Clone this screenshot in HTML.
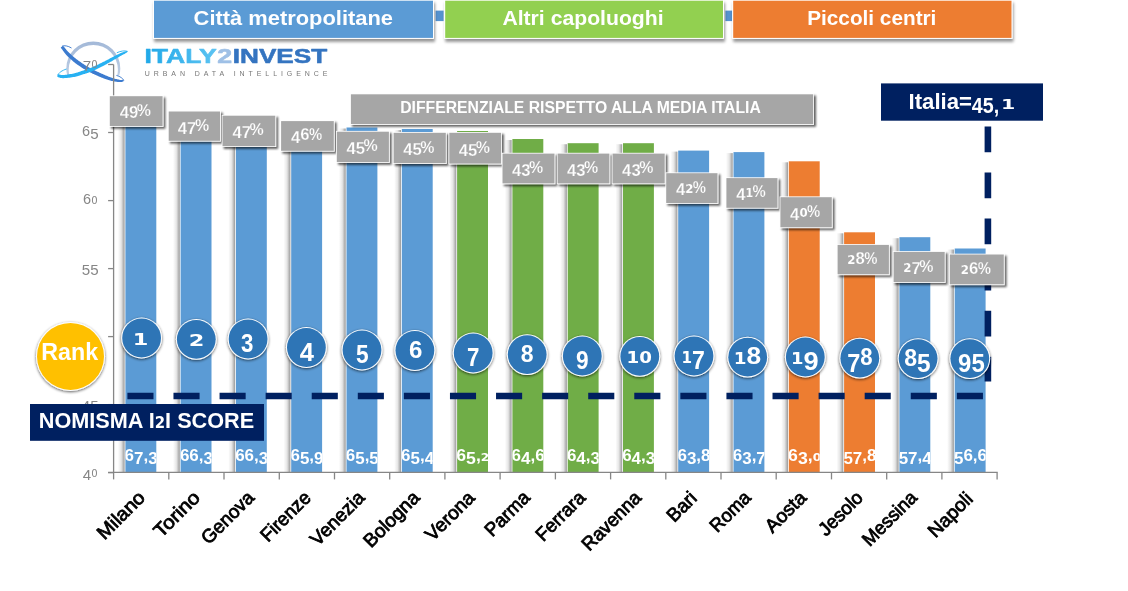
<!DOCTYPE html>
<html lang="it"><head><meta charset="utf-8"><title>Nomisma I2I Score</title>
<style>html,body{margin:0;padding:0;background:#fff}svg{display:block}text{font-family:"Liberation Sans", sans-serif}.o{font-family:"DejaVu Sans","Liberation Sans",sans-serif;stroke-width:0.05px}</style></head><body>
<svg width="1128" height="591" viewBox="0 0 1128 591">
<defs>
<filter id="sh" x="-10%" y="-20%" width="125%" height="150%"><feGaussianBlur in="SourceAlpha" stdDeviation="1.7"/><feOffset dx="1.2" dy="2.8"/><feComponentTransfer><feFuncA type="linear" slope="0.42"/></feComponentTransfer><feMerge><feMergeNode/><feMergeNode in="SourceGraphic"/></feMerge></filter>
<filter id="sh2" x="-20%" y="-20%" width="150%" height="150%"><feGaussianBlur in="SourceAlpha" stdDeviation="1.3"/><feOffset dx="2" dy="2"/><feComponentTransfer><feFuncA type="linear" slope="0.62"/></feComponentTransfer><feMerge><feMergeNode/><feMergeNode in="SourceGraphic"/></feMerge></filter>
<filter id="sh3" x="-20%" y="-20%" width="140%" height="140%"><feGaussianBlur in="SourceAlpha" stdDeviation="1.8"/><feOffset dx="-0.2" dy="1.3"/><feComponentTransfer><feFuncA type="linear" slope="0.65"/></feComponentTransfer><feMerge><feMergeNode/><feMergeNode in="SourceGraphic"/></feMerge></filter>
<linearGradient id="bs" x1="0" x2="1" y1="0" y2="0"><stop offset="0" stop-color="#000" stop-opacity="0"/><stop offset="0.5" stop-color="#000" stop-opacity="0.1"/><stop offset="1" stop-color="#000" stop-opacity="0.4"/></linearGradient>
<linearGradient id="lg1" x1="0" x2="1" y1="0" y2="0"><stop offset="0" stop-color="#1FA8E8"/><stop offset="1" stop-color="#5CC3F2"/></linearGradient>
</defs>
<rect width="1128" height="591" fill="#fff"/>
<rect x="435.6" y="10.6" width="8" height="10.5" fill="#5592CF"/><rect x="725.4" y="10.6" width="6.8" height="10.5" fill="#5592CF"/>
<rect filter="url(#sh)" x="153.0" y="-0.3" width="281.0" height="39.2" fill="#fff"/>
<rect x="154.0" y="0.7" width="279.0" height="37.2" fill="#5B9BD5"/>
<text x="293.3" y="25.4" font-size="20.5" font-weight="bold" fill="#fff" text-anchor="middle" textLength="199.4" lengthAdjust="spacingAndGlyphs">Città metropolitane</text>
<rect filter="url(#sh)" x="444.2" y="-0.3" width="279.8" height="39.2" fill="#fff"/>
<rect x="445.2" y="0.7" width="277.8" height="37.2" fill="#92D050"/>
<text x="583.0" y="25.4" font-size="20.5" font-weight="bold" fill="#fff" text-anchor="middle" textLength="161.2" lengthAdjust="spacingAndGlyphs">Altri capoluoghi</text>
<rect filter="url(#sh)" x="732.2" y="-0.3" width="280.3" height="39.2" fill="#fff"/>
<rect x="733.2" y="0.7" width="278.3" height="37.2" fill="#ED7D31"/>
<text x="871.8" y="25.4" font-size="20.5" font-weight="bold" fill="#fff" text-anchor="middle" textLength="129.2" lengthAdjust="spacingAndGlyphs">Piccoli centri</text>
<g font-size="19.3" font-weight="bold" stroke-width="0.55" stroke-linejoin="round">
<text x="144.4" y="63.3" fill="url(#lg1)" stroke="url(#lg1)" textLength="72.4" lengthAdjust="spacingAndGlyphs">ITALY</text>
<text x="217.2" y="63.3" fill="#9FC0E6" stroke="#9FC0E6" textLength="14.9" lengthAdjust="spacingAndGlyphs">2</text>
<text x="232.8" y="63.3" fill="#3474C0" stroke="#3474C0" textLength="94.4" lengthAdjust="spacingAndGlyphs">INVEST</text>
</g>
<text x="144.7" y="75.8" font-size="7" fill="#777" textLength="182.8" lengthAdjust="spacing">URBAN DATA INTELLIGENCE</text>
<g id="logo">
<clipPath id="lc"><rect x="60" y="38" width="70" height="37.4"/></clipPath>
<linearGradient id="lgA" x1="0" x2="0" y1="0" y2="1"><stop offset="0" stop-color="#A3B9D8"/><stop offset="1" stop-color="#CBD8EA"/></linearGradient>
<path clip-path="url(#lc)" fill="url(#lgA)" fill-rule="evenodd" d="M66.3 68.4A27 27 0 1 0 120.3 68.4A27 27 0 1 0 66.3 68.4ZM68.7 69.6A24.6 24.6 0 1 0 117.9 69.6A24.6 24.6 0 1 0 68.7 69.6Z"/>
<path d="M62 46.2C64 45.2 68 45.8 71.5 48" stroke="#4C85D2" stroke-width="1" fill="none"/>
<path d="M123.8 80.4C123 78.6 120 76.2 116.4 75.4" stroke="#4C85D2" stroke-width="1" fill="none"/>
<path d="M57.6 75.4C58.6 72.8 62 70.4 66.6 69" stroke="#3BB8F3" stroke-width="1" fill="none"/>
<path d="M127.6 51.4C125 50.4 120.6 50.9 116.8 52.8" stroke="#3BB8F3" stroke-width="1" fill="none"/>
<path fill="#3C7BCF" d="M60.7 47.5L61.2 48.2L61.7 48.9L62.2 49.6L62.7 50.3L63.2 51.0L63.8 51.8L64.3 52.5L64.9 53.2L65.5 54.0L66.1 54.7L66.8 55.4L67.5 56.2L68.3 56.9L69.1 57.7L69.8 58.4L70.6 59.1L71.4 59.8L72.2 60.5L73.0 61.2L73.8 61.9L74.6 62.5L75.4 63.2L76.2 63.8L77.1 64.4L77.9 65.0L78.7 65.5L79.5 66.1L80.2 66.6L80.9 67.1L81.6 67.5L82.3 67.9L82.8 68.3L83.4 68.7L83.9 69.0L84.5 69.3L85.0 69.6L85.5 69.9L86.0 70.2L86.5 70.5L87.1 70.8L87.7 71.1L88.3 71.5L89.0 71.8L89.6 72.1L90.3 72.5L91.0 72.8L91.6 73.1L92.2 73.4L92.8 73.7L93.3 73.9L93.7 74.1L94.1 74.3L94.4 74.4L94.7 74.6L95.0 74.7L95.3 74.8L95.6 75.0L95.9 75.1L96.3 75.3L96.8 75.5L97.4 75.8L98.1 76.0L98.8 76.4L99.6 76.7L100.4 77.0L101.2 77.4L102.1 77.7L102.9 78.1L103.8 78.4L104.6 78.7L105.4 79.0L106.1 79.3L106.9 79.5L107.7 79.8L108.5 80.1L109.3 80.3L110.1 80.5L110.9 80.8L111.7 81.0L112.5 81.1L113.4 81.3L114.2 81.5L115.1 81.6L115.9 81.7L116.8 81.8L117.6 81.9L118.4 82.0L119.1 82.0L119.8 82.0L120.4 82.0L121.0 82.0L121.5 82.0L121.9 81.9L122.3 81.8L122.6 81.7L122.9 81.6L123.1 81.5L123.3 81.3L123.6 81.2L123.8 80.6L123.8 80.6L123.4 80.1L123.1 80.1L122.8 80.1L122.5 80.1L122.2 80.1L122.0 80.1L121.7 80.1L121.4 80.1L121.0 80.0L120.6 80.0L120.0 79.9L119.4 79.7L118.7 79.6L118.0 79.4L117.2 79.3L116.4 79.1L115.6 78.9L114.8 78.7L114.0 78.5L113.3 78.3L112.5 78.0L111.8 77.8L111.1 77.5L110.3 77.3L109.6 77.0L108.8 76.7L108.1 76.4L107.3 76.1L106.6 75.8L105.8 75.5L105.1 75.2L104.3 74.8L103.5 74.5L102.7 74.1L101.9 73.7L101.1 73.4L100.3 73.0L99.6 72.7L99.0 72.4L98.4 72.1L97.8 71.9L97.4 71.7L97.1 71.5L96.8 71.4L96.5 71.3L96.3 71.2L96.0 71.0L95.7 70.9L95.4 70.7L94.9 70.5L94.4 70.2L93.9 70.0L93.3 69.7L92.7 69.4L92.0 69.0L91.4 68.7L90.7 68.4L90.1 68.0L89.5 67.7L88.9 67.4L88.4 67.1L87.9 66.8L87.4 66.5L86.9 66.3L86.4 66.0L86.0 65.7L85.5 65.4L85.0 65.0L84.4 64.7L83.8 64.3L83.1 63.8L82.4 63.4L81.7 62.9L80.9 62.3L80.1 61.8L79.3 61.2L78.5 60.7L77.7 60.1L76.9 59.5L76.2 58.9L75.4 58.3L74.6 57.7L73.9 57.0L73.1 56.4L72.3 55.7L71.5 55.0L70.8 54.3L70.0 53.6L69.3 53.0L68.7 52.3L68.0 51.7L67.5 51.0L66.9 50.4L66.3 49.7L65.8 49.1L65.3 48.4L64.7 47.7L64.2 47.1L63.6 46.4L63.1 45.7Z"/>
<path fill="#27B1F2" d="M57.3 77.0L57.9 77.1L58.4 77.2L58.8 77.4L59.4 77.5L59.9 77.7L60.5 77.9L61.2 78.0L61.9 78.1L62.7 78.2L63.7 78.2L64.7 78.1L65.7 78.1L66.9 78.0L68.2 77.8L69.4 77.7L70.7 77.5L72.0 77.3L73.2 77.1L74.3 76.9L75.4 76.7L76.3 76.5L77.2 76.3L78.1 76.1L78.9 75.8L79.7 75.6L80.4 75.3L81.1 75.1L81.8 74.8L82.5 74.6L83.3 74.3L84.0 74.1L84.8 73.9L85.6 73.6L86.3 73.4L87.1 73.1L87.9 72.9L88.7 72.6L89.4 72.3L90.2 72.0L91.0 71.7L91.7 71.4L92.5 71.1L93.2 70.8L94.0 70.4L94.7 70.1L95.4 69.8L96.2 69.4L96.9 69.1L97.6 68.7L98.4 68.3L99.1 68.0L99.9 67.6L100.6 67.2L101.4 66.8L102.2 66.4L102.9 66.1L103.7 65.7L104.5 65.2L105.2 64.8L106.0 64.4L106.8 64.0L107.5 63.6L108.3 63.1L109.1 62.7L109.8 62.3L110.6 61.8L111.4 61.4L112.1 60.9L112.9 60.5L113.6 60.1L114.4 59.6L115.2 59.2L115.9 58.7L116.7 58.3L117.4 57.8L118.2 57.4L118.9 57.0L119.6 56.5L120.4 56.1L121.1 55.7L121.8 55.3L122.4 55.0L123.1 54.6L123.8 54.2L124.5 53.9L125.2 53.5L125.8 53.1L126.5 52.7L127.1 52.3L127.6 51.4L127.6 51.4L126.6 51.1L125.9 51.3L125.1 51.5L124.4 51.8L123.7 52.0L122.9 52.3L122.2 52.5L121.5 52.8L120.7 53.1L119.9 53.5L119.2 53.8L118.4 54.2L117.6 54.6L116.8 54.9L116.1 55.3L115.3 55.7L114.5 56.1L113.7 56.5L112.9 56.9L112.2 57.3L111.4 57.7L110.6 58.1L109.8 58.6L109.0 59.0L108.3 59.4L107.5 59.8L106.7 60.2L105.9 60.6L105.2 61.0L104.4 61.4L103.6 61.8L102.9 62.1L102.1 62.5L101.3 62.9L100.6 63.3L99.8 63.6L99.1 64.0L98.3 64.4L97.6 64.7L96.8 65.1L96.1 65.4L95.3 65.8L94.6 66.1L93.9 66.4L93.2 66.8L92.5 67.1L91.8 67.4L91.1 67.7L90.3 68.0L89.6 68.3L88.9 68.6L88.2 68.8L87.4 69.1L86.7 69.3L85.9 69.6L85.2 69.9L84.4 70.1L83.7 70.4L82.9 70.6L82.1 70.9L81.4 71.1L80.6 71.4L79.9 71.6L79.2 71.9L78.5 72.1L77.8 72.4L77.1 72.6L76.3 72.8L75.5 73.1L74.6 73.3L73.7 73.5L72.6 73.7L71.4 73.9L70.2 74.1L69.0 74.3L67.7 74.5L66.5 74.7L65.4 74.8L64.4 75.0L63.5 75.0L62.8 75.0L62.2 75.0L61.6 75.0L61.1 74.9L60.6 74.8L60.1 74.7L59.6 74.6L59.1 74.4L58.5 74.3L57.9 74.2Z"/>
</g>
<text x="97.6" y="68.3" font-size="14.5" fill="#868686" text-anchor="end"><tspan font-size="15.1" dy="3.0">7</tspan><tspan class="o" font-size="10.1" dy="-3.0">0</tspan></text>
<text x="98.6" y="136.3" font-size="14.5" fill="#868686" text-anchor="end">6<tspan font-size="15.1" dy="3.0">5</tspan></text>
<text x="97.6" y="204.4" font-size="14.5" fill="#868686" text-anchor="end">6<tspan class="o" font-size="10.1">0</tspan></text>
<text x="98.6" y="272.4" font-size="14.5" fill="#868686" text-anchor="end"><tspan font-size="15.1" dy="3.0">55</tspan></text>
<text x="95.0" y="340.4" font-size="14.5" fill="#868686" text-anchor="end"><tspan font-size="15.1" dy="3.0">5</tspan><tspan class="o" font-size="10.1" dy="-3.0">0</tspan></text>
<text x="98.6" y="408.4" font-size="14.5" fill="#868686" text-anchor="end"><tspan font-size="15.1" dy="3.0">45</tspan></text>
<text x="97.6" y="476.5" font-size="14.5" fill="#868686" text-anchor="end"><tspan font-size="15.1" dy="3.0">4</tspan><tspan class="o" font-size="10.1" dy="-3.0">0</tspan></text>
<rect x="117.8" y="103.0" width="6.8" height="369.4" fill="url(#bs)"/>
<rect x="125.4" y="102.0" width="30.9" height="370.4" fill="#5B9BD5"/>
<rect x="173.0" y="117.0" width="6.8" height="355.4" fill="url(#bs)"/>
<rect x="180.6" y="116.0" width="30.9" height="356.4" fill="#5B9BD5"/>
<rect x="228.3" y="117.0" width="6.8" height="355.4" fill="url(#bs)"/>
<rect x="235.9" y="116.0" width="30.9" height="356.4" fill="#5B9BD5"/>
<rect x="283.6" y="123.0" width="6.8" height="349.4" fill="url(#bs)"/>
<rect x="291.2" y="122.0" width="30.9" height="350.4" fill="#5B9BD5"/>
<rect x="338.9" y="128.5" width="6.8" height="343.9" fill="url(#bs)"/>
<rect x="346.5" y="127.5" width="30.9" height="344.9" fill="#5B9BD5"/>
<rect x="394.2" y="130.0" width="6.8" height="342.4" fill="url(#bs)"/>
<rect x="401.8" y="129.0" width="30.9" height="343.4" fill="#5B9BD5"/>
<rect x="449.5" y="132.0" width="6.8" height="340.4" fill="url(#bs)"/>
<rect x="457.1" y="131.0" width="30.9" height="341.4" fill="#70AD47"/>
<rect x="504.8" y="140.0" width="6.8" height="332.4" fill="url(#bs)"/>
<rect x="512.4" y="139.0" width="30.9" height="333.4" fill="#70AD47"/>
<rect x="560.1" y="144.2" width="6.8" height="328.2" fill="url(#bs)"/>
<rect x="567.7" y="143.2" width="30.9" height="329.2" fill="#70AD47"/>
<rect x="615.4" y="144.2" width="6.8" height="328.2" fill="url(#bs)"/>
<rect x="623.0" y="143.2" width="30.9" height="329.2" fill="#70AD47"/>
<rect x="670.6" y="151.6" width="6.8" height="320.8" fill="url(#bs)"/>
<rect x="678.2" y="150.6" width="30.9" height="321.8" fill="#5B9BD5"/>
<rect x="725.9" y="153.1" width="6.8" height="319.3" fill="url(#bs)"/>
<rect x="733.5" y="152.1" width="30.9" height="320.3" fill="#5B9BD5"/>
<rect x="781.2" y="162.3" width="6.8" height="310.1" fill="url(#bs)"/>
<rect x="788.8" y="161.3" width="30.9" height="311.1" fill="#ED7D31"/>
<rect x="836.5" y="233.3" width="6.8" height="239.1" fill="url(#bs)"/>
<rect x="844.1" y="232.3" width="30.9" height="240.1" fill="#ED7D31"/>
<rect x="891.8" y="238.2" width="6.8" height="234.2" fill="url(#bs)"/>
<rect x="899.4" y="237.2" width="30.9" height="235.2" fill="#5B9BD5"/>
<rect x="947.1" y="249.5" width="6.8" height="222.9" fill="url(#bs)"/>
<rect x="954.7" y="248.5" width="30.9" height="223.9" fill="#5B9BD5"/>
<g stroke="#868686" stroke-width="1.3" fill="none">
<path d="M113.6 64.5V472.4"/>
<path d="M108.1 472.4H997.7"/>
<path d="M108.1 64.5H113.6"/>
<path d="M108.1 132.5H113.6"/>
<path d="M108.1 200.6H113.6"/>
<path d="M108.1 268.6H113.6"/>
<path d="M108.1 336.6H113.6"/>
<path d="M108.1 404.6H113.6"/>
<path d="M108.1 472.7H113.6"/>
<path d="M113.6 472.4V479.4"/>
<path d="M168.8 472.4V479.4"/>
<path d="M224.0 472.4V479.4"/>
<path d="M279.3 472.4V479.4"/>
<path d="M334.5 472.4V479.4"/>
<path d="M389.7 472.4V479.4"/>
<path d="M444.9 472.4V479.4"/>
<path d="M500.1 472.4V479.4"/>
<path d="M555.4 472.4V479.4"/>
<path d="M610.6 472.4V479.4"/>
<path d="M665.8 472.4V479.4"/>
<path d="M721.0 472.4V479.4"/>
<path d="M776.2 472.4V479.4"/>
<path d="M831.5 472.4V479.4"/>
<path d="M886.7 472.4V479.4"/>
<path d="M941.9 472.4V479.4"/>
<path d="M997.1 472.4V479.4"/>
</g>
<clipPath id="bc"><rect x="125.4" y="440" width="30.9" height="32"/><rect x="180.6" y="440" width="30.9" height="32"/><rect x="235.9" y="440" width="30.9" height="32"/><rect x="291.2" y="440" width="30.9" height="32"/><rect x="346.5" y="440" width="30.9" height="32"/><rect x="401.8" y="440" width="30.9" height="32"/><rect x="457.1" y="440" width="30.9" height="32"/><rect x="512.4" y="440" width="30.9" height="32"/><rect x="567.7" y="440" width="30.9" height="32"/><rect x="623.0" y="440" width="30.9" height="32"/><rect x="678.2" y="440" width="30.9" height="32"/><rect x="733.5" y="440" width="30.9" height="32"/><rect x="788.8" y="440" width="30.9" height="32"/><rect x="844.1" y="440" width="30.9" height="32"/><rect x="899.4" y="440" width="30.9" height="32"/><rect x="954.7" y="440" width="30.9" height="32"/></clipPath>
<g clip-path="url(#bc)" font-size="16" font-weight="bold" fill="#fff" text-anchor="middle">
<text x="141.1" y="460.6" textLength="33" lengthAdjust="spacingAndGlyphs">6<tspan dy="3.5">7</tspan><tspan dy="-3.5">,</tspan><tspan dy="3.5">3</tspan></text>
<text x="196.4" y="460.6" textLength="33" lengthAdjust="spacingAndGlyphs">66,<tspan dy="3.5">3</tspan></text>
<text x="251.7" y="460.6" textLength="33" lengthAdjust="spacingAndGlyphs">66,<tspan dy="3.5">3</tspan></text>
<text x="307.0" y="460.6" textLength="33" lengthAdjust="spacingAndGlyphs">6<tspan dy="3.5">5</tspan><tspan dy="-3.5">,</tspan><tspan dy="3.5">9</tspan></text>
<text x="362.3" y="460.6" textLength="33" lengthAdjust="spacingAndGlyphs">6<tspan dy="3.5">5</tspan><tspan dy="-3.5">,</tspan><tspan dy="3.5">5</tspan></text>
<text x="417.6" y="460.6" textLength="33" lengthAdjust="spacingAndGlyphs">6<tspan dy="3.5">5</tspan><tspan dy="-3.5">,</tspan><tspan dy="3.5">4</tspan></text>
<text x="472.8" y="460.6" textLength="33" lengthAdjust="spacingAndGlyphs">6<tspan dy="3.5">5</tspan><tspan dy="-3.5">,</tspan><tspan class="o" font-size="11.0">2</tspan></text>
<text x="528.1" y="460.6" textLength="33" lengthAdjust="spacingAndGlyphs">6<tspan dy="3.5">4</tspan><tspan dy="-3.5">,6</tspan></text>
<text x="583.4" y="460.6" textLength="33" lengthAdjust="spacingAndGlyphs">6<tspan dy="3.5">4</tspan><tspan dy="-3.5">,</tspan><tspan dy="3.5">3</tspan></text>
<text x="638.7" y="460.6" textLength="33" lengthAdjust="spacingAndGlyphs">6<tspan dy="3.5">4</tspan><tspan dy="-3.5">,</tspan><tspan dy="3.5">3</tspan></text>
<text x="694.0" y="460.6" textLength="33" lengthAdjust="spacingAndGlyphs">6<tspan dy="3.5">3</tspan><tspan dy="-3.5">,8</tspan></text>
<text x="749.3" y="460.6" textLength="33" lengthAdjust="spacingAndGlyphs">6<tspan dy="3.5">3</tspan><tspan dy="-3.5">,</tspan><tspan dy="3.5">7</tspan></text>
<text x="804.6" y="460.6" textLength="33" lengthAdjust="spacingAndGlyphs">6<tspan dy="3.5">3</tspan><tspan dy="-3.5">,</tspan><tspan class="o" font-size="11.0">0</tspan></text>
<text x="859.9" y="460.6" textLength="33" lengthAdjust="spacingAndGlyphs"><tspan dy="3.5">57</tspan><tspan dy="-3.5">,8</tspan></text>
<text x="915.2" y="460.6" textLength="33" lengthAdjust="spacingAndGlyphs"><tspan dy="3.5">57</tspan><tspan dy="-3.5">,</tspan><tspan dy="3.5">4</tspan></text>
<text x="970.5" y="460.6" textLength="33" lengthAdjust="spacingAndGlyphs"><tspan dy="3.5">5</tspan><tspan dy="-3.5">6,6</tspan></text>
</g>
<path d="M127.4 396H983.2" stroke="#002060" stroke-width="6.4" stroke-dasharray="26.1 19.98" fill="none"/>
<path d="M987.9 126.4V381.6" stroke="#002060" stroke-width="6.6" stroke-dasharray="25.8 20.28" fill="none"/>
<rect filter="url(#sh2)" x="350.1" y="93.5" width="463.9" height="31.3" fill="#fff"/><rect x="350.9" y="94.3" width="462.3" height="29.7" fill="#A6A6A6"/>
<text x="580.5" y="113.4" font-size="16" font-weight="bold" fill="#fff" text-anchor="middle" textLength="360.6" lengthAdjust="spacingAndGlyphs">DIFFERENZIALE RISPETTO ALLA MEDIA ITALIA</text>
<rect filter="url(#sh2)" x="109.0" y="95.4" width="54.4" height="31.4" fill="#fff"/>
<rect x="109.8" y="96.2" width="52.8" height="29.8" fill="#A6A6A6"/>
<text y="115.6" font-size="15.6" font-weight="bold" fill="#fff" stroke="#A6A6A6" stroke-width="0.25"><tspan x="119.7" textLength="18.6" lengthAdjust="spacingAndGlyphs" font-size="16.8" dy="2.8">49</tspan><tspan x="136.8" textLength="14.2" lengthAdjust="spacingAndGlyphs" font-size="16.7" dy="-2.8">%</tspan></text>
<rect filter="url(#sh2)" x="167.9" y="110.7" width="52.9" height="30.9" fill="#fff"/>
<rect x="168.7" y="111.5" width="51.3" height="29.3" fill="#A6A6A6"/>
<text y="130.7" font-size="15.6" font-weight="bold" fill="#fff" stroke="#A6A6A6" stroke-width="0.25"><tspan x="177.8" textLength="18.6" lengthAdjust="spacingAndGlyphs" font-size="16.8" dy="2.8">47</tspan><tspan x="194.9" textLength="14.2" lengthAdjust="spacingAndGlyphs" font-size="16.7" dy="-2.8">%</tspan></text>
<rect filter="url(#sh2)" x="221.7" y="114.9" width="54.4" height="32.1" fill="#fff"/>
<rect x="222.5" y="115.7" width="52.8" height="30.5" fill="#A6A6A6"/>
<text y="135.4" font-size="15.6" font-weight="bold" fill="#fff" stroke="#A6A6A6" stroke-width="0.25"><tspan x="232.4" textLength="18.6" lengthAdjust="spacingAndGlyphs" font-size="16.8" dy="2.8">47</tspan><tspan x="249.5" textLength="14.2" lengthAdjust="spacingAndGlyphs" font-size="16.7" dy="-2.8">%</tspan></text>
<rect filter="url(#sh2)" x="280.3" y="120.3" width="54.3" height="31.3" fill="#fff"/>
<rect x="281.1" y="121.1" width="52.7" height="29.7" fill="#A6A6A6"/>
<text y="140.4" font-size="15.6" font-weight="bold" fill="#fff" stroke="#A6A6A6" stroke-width="0.25"><tspan x="290.9" textLength="9.3" lengthAdjust="spacingAndGlyphs" font-size="16.8" dy="2.8">4</tspan><tspan x="300.2" textLength="9.3" lengthAdjust="spacingAndGlyphs" dy="-2.8">6</tspan><tspan x="308.9" textLength="13.2" lengthAdjust="spacingAndGlyphs" font-size="16.7">%</tspan></text>
<rect filter="url(#sh2)" x="336.0" y="130.9" width="53.7" height="32.0" fill="#fff"/>
<rect x="336.8" y="131.7" width="52.1" height="30.4" fill="#A6A6A6"/>
<text y="151.4" font-size="15.6" font-weight="bold" fill="#fff" stroke="#A6A6A6" stroke-width="0.25"><tspan x="346.4" textLength="18.6" lengthAdjust="spacingAndGlyphs" font-size="16.8" dy="2.8">45</tspan><tspan x="363.5" textLength="14.2" lengthAdjust="spacingAndGlyphs" font-size="16.7" dy="-2.8">%</tspan></text>
<rect filter="url(#sh2)" x="392.8" y="132.0" width="53.8" height="32.0" fill="#fff"/>
<rect x="393.6" y="132.8" width="52.2" height="30.4" fill="#A6A6A6"/>
<text y="152.5" font-size="15.6" font-weight="bold" fill="#fff" stroke="#A6A6A6" stroke-width="0.25"><tspan x="403.2" textLength="18.6" lengthAdjust="spacingAndGlyphs" font-size="16.8" dy="2.8">45</tspan><tspan x="420.3" textLength="14.2" lengthAdjust="spacingAndGlyphs" font-size="16.7" dy="-2.8">%</tspan></text>
<rect filter="url(#sh2)" x="448.5" y="132.0" width="53.4" height="32.4" fill="#fff"/>
<rect x="449.3" y="132.8" width="51.8" height="30.8" fill="#A6A6A6"/>
<text y="152.7" font-size="15.6" font-weight="bold" fill="#fff" stroke="#A6A6A6" stroke-width="0.25"><tspan x="458.7" textLength="18.6" lengthAdjust="spacingAndGlyphs" font-size="16.8" dy="2.8">45</tspan><tspan x="475.8" textLength="14.2" lengthAdjust="spacingAndGlyphs" font-size="16.7" dy="-2.8">%</tspan></text>
<rect filter="url(#sh2)" x="501.7" y="152.8" width="53.6" height="31.4" fill="#fff"/>
<rect x="502.5" y="153.6" width="52.0" height="29.8" fill="#A6A6A6"/>
<text y="173.0" font-size="15.6" font-weight="bold" fill="#fff" stroke="#A6A6A6" stroke-width="0.25"><tspan x="512.0" textLength="18.6" lengthAdjust="spacingAndGlyphs" font-size="16.8" dy="2.8">43</tspan><tspan x="529.1" textLength="14.2" lengthAdjust="spacingAndGlyphs" font-size="16.7" dy="-2.8">%</tspan></text>
<rect filter="url(#sh2)" x="556.8" y="152.8" width="53.4" height="31.4" fill="#fff"/>
<rect x="557.6" y="153.6" width="51.8" height="29.8" fill="#A6A6A6"/>
<text y="173.0" font-size="15.6" font-weight="bold" fill="#fff" stroke="#A6A6A6" stroke-width="0.25"><tspan x="567.0" textLength="18.6" lengthAdjust="spacingAndGlyphs" font-size="16.8" dy="2.8">43</tspan><tspan x="584.1" textLength="14.2" lengthAdjust="spacingAndGlyphs" font-size="16.7" dy="-2.8">%</tspan></text>
<rect filter="url(#sh2)" x="611.7" y="152.8" width="53.8" height="31.4" fill="#fff"/>
<rect x="612.5" y="153.6" width="52.2" height="29.8" fill="#A6A6A6"/>
<text y="173.0" font-size="15.6" font-weight="bold" fill="#fff" stroke="#A6A6A6" stroke-width="0.25"><tspan x="622.1" textLength="18.6" lengthAdjust="spacingAndGlyphs" font-size="16.8" dy="2.8">43</tspan><tspan x="639.2" textLength="14.2" lengthAdjust="spacingAndGlyphs" font-size="16.7" dy="-2.8">%</tspan></text>
<rect filter="url(#sh2)" x="665.4" y="172.4" width="52.9" height="31.4" fill="#fff"/>
<rect x="666.2" y="173.2" width="51.3" height="29.8" fill="#A6A6A6"/>
<text y="192.6" font-size="15.6" font-weight="bold" fill="#fff" stroke="#A6A6A6" stroke-width="0.25"><tspan x="675.9" textLength="9.3" lengthAdjust="spacingAndGlyphs" font-size="16.8" dy="2.8">4</tspan><tspan x="685.2" textLength="8.2" lengthAdjust="spacingAndGlyphs" class="o" font-size="11.7" dy="-2.8">2</tspan><tspan x="692.8" textLength="13.2" lengthAdjust="spacingAndGlyphs" font-size="16.7">%</tspan></text>
<rect filter="url(#sh2)" x="725.6" y="177.3" width="52.7" height="31.3" fill="#fff"/>
<rect x="726.4" y="178.1" width="51.1" height="29.7" fill="#A6A6A6"/>
<text y="197.4" font-size="15.6" font-weight="bold" fill="#fff" stroke="#A6A6A6" stroke-width="0.25"><tspan x="736.2" textLength="9.3" lengthAdjust="spacingAndGlyphs" font-size="16.8" dy="2.8">4</tspan><tspan x="745.5" textLength="7.7" lengthAdjust="spacingAndGlyphs" class="o" font-size="11.7" dy="-2.8">1</tspan><tspan x="752.6" textLength="13.2" lengthAdjust="spacingAndGlyphs" font-size="16.7">%</tspan></text>
<rect filter="url(#sh2)" x="779.6" y="196.4" width="53.0" height="31.7" fill="#fff"/>
<rect x="780.4" y="197.2" width="51.4" height="30.1" fill="#A6A6A6"/>
<text y="216.8" font-size="15.6" font-weight="bold" fill="#fff" stroke="#A6A6A6" stroke-width="0.25"><tspan x="790.1" textLength="9.3" lengthAdjust="spacingAndGlyphs" font-size="16.8" dy="2.8">4</tspan><tspan x="799.4" textLength="8.2" lengthAdjust="spacingAndGlyphs" class="o" font-size="11.7" dy="-2.8">0</tspan><tspan x="807.0" textLength="13.2" lengthAdjust="spacingAndGlyphs" font-size="16.7">%</tspan></text>
<rect filter="url(#sh2)" x="836.8" y="244.1" width="52.9" height="31.0" fill="#fff"/>
<rect x="837.6" y="244.9" width="51.3" height="29.4" fill="#A6A6A6"/>
<text y="264.1" font-size="15.6" font-weight="bold" fill="#fff" stroke="#A6A6A6" stroke-width="0.25"><tspan x="847.3" textLength="8.2" lengthAdjust="spacingAndGlyphs" class="o" font-size="11.7">2</tspan><tspan x="855.5" textLength="9.3" lengthAdjust="spacingAndGlyphs">8</tspan><tspan x="864.2" textLength="13.2" lengthAdjust="spacingAndGlyphs" font-size="16.7">%</tspan></text>
<rect filter="url(#sh2)" x="892.8" y="251.1" width="52.7" height="31.8" fill="#fff"/>
<rect x="893.6" y="251.9" width="51.1" height="30.2" fill="#A6A6A6"/>
<text y="271.5" font-size="15.6" font-weight="bold" fill="#fff" stroke="#A6A6A6" stroke-width="0.25"><tspan x="903.2" textLength="8.2" lengthAdjust="spacingAndGlyphs" class="o" font-size="11.7">2</tspan><tspan x="911.4" textLength="9.3" lengthAdjust="spacingAndGlyphs" font-size="16.8" dy="2.8">7</tspan><tspan x="919.2" textLength="14.2" lengthAdjust="spacingAndGlyphs" font-size="16.7" dy="-2.8">%</tspan></text>
<rect filter="url(#sh2)" x="949.0" y="253.7" width="55.6" height="31.4" fill="#fff"/>
<rect x="949.8" y="254.5" width="54.0" height="29.8" fill="#A6A6A6"/>
<text y="273.9" font-size="15.6" font-weight="bold" fill="#fff" stroke="#A6A6A6" stroke-width="0.25"><tspan x="960.8" textLength="8.2" lengthAdjust="spacingAndGlyphs" class="o" font-size="11.7">2</tspan><tspan x="969.0" textLength="9.3" lengthAdjust="spacingAndGlyphs">6</tspan><tspan x="977.7" textLength="13.2" lengthAdjust="spacingAndGlyphs" font-size="16.7">%</tspan></text>
<rect x="881" y="83.4" width="162" height="37.3" fill="#002060"/>
<text y="108.7" font-size="22" font-weight="bold" fill="#fff"><tspan x="908.6" textLength="63.4" lengthAdjust="spacingAndGlyphs">Italia=</tspan><tspan x="971.8" dy="4.6" textLength="27.4" lengthAdjust="spacingAndGlyphs">45,</tspan><tspan class="o" x="1001" dy="-4.6" font-size="14.2" textLength="14.3" lengthAdjust="spacingAndGlyphs">1</tspan></text>
<circle filter="url(#sh3)" cx="141.6" cy="338.0" r="20.4" fill="#fff"/><circle cx="141.6" cy="338.0" r="19.4" fill="#2E75B6"/>
<text x="140.6" y="345.0" font-size="23.5" font-weight="bold" fill="#fff" text-anchor="middle" textLength="15.6" lengthAdjust="spacingAndGlyphs"><tspan class="o" font-size="16.4">1</tspan></text>
<circle filter="url(#sh3)" cx="196.3" cy="339.3" r="20.4" fill="#fff"/><circle cx="196.3" cy="339.3" r="19.4" fill="#2E75B6"/>
<text x="196.6" y="346.3" font-size="23.5" font-weight="bold" fill="#fff" text-anchor="middle" textLength="15.6" lengthAdjust="spacingAndGlyphs"><tspan class="o" font-size="16.4">2</tspan></text>
<circle filter="url(#sh3)" cx="248.1" cy="339.0" r="20.4" fill="#fff"/><circle cx="248.1" cy="339.0" r="19.4" fill="#2E75B6"/>
<text x="247.3" y="346.0" font-size="23.5" font-weight="bold" fill="#fff" text-anchor="middle" textLength="12.4" lengthAdjust="spacingAndGlyphs"><tspan font-size="24.9" dy="6.3">3</tspan></text>
<circle filter="url(#sh3)" cx="306.4" cy="347.5" r="20.4" fill="#fff"/><circle cx="306.4" cy="347.5" r="19.4" fill="#2E75B6"/>
<text x="306.8" y="354.5" font-size="23.5" font-weight="bold" fill="#fff" text-anchor="middle" textLength="14.2" lengthAdjust="spacingAndGlyphs"><tspan font-size="24.9" dy="6.3">4</tspan></text>
<circle filter="url(#sh3)" cx="362.0" cy="350.0" r="20.4" fill="#fff"/><circle cx="362.0" cy="350.0" r="19.4" fill="#2E75B6"/>
<text x="362.2" y="357.0" font-size="23.5" font-weight="bold" fill="#fff" text-anchor="middle" textLength="12.6" lengthAdjust="spacingAndGlyphs"><tspan font-size="24.9" dy="6.3">5</tspan></text>
<circle filter="url(#sh3)" cx="414.9" cy="350.5" r="20.4" fill="#fff"/><circle cx="414.9" cy="350.5" r="19.4" fill="#2E75B6"/>
<text x="415.7" y="357.5" font-size="23.5" font-weight="bold" fill="#fff" text-anchor="middle" textLength="13.4" lengthAdjust="spacingAndGlyphs">6</text>
<circle filter="url(#sh3)" cx="473.2" cy="353.0" r="20.4" fill="#fff"/><circle cx="473.2" cy="353.0" r="19.4" fill="#2E75B6"/>
<text x="473.2" y="360.0" font-size="23.5" font-weight="bold" fill="#fff" text-anchor="middle" textLength="12.4" lengthAdjust="spacingAndGlyphs"><tspan font-size="24.9" dy="6.3">7</tspan></text>
<circle filter="url(#sh3)" cx="527.2" cy="354.6" r="20.4" fill="#fff"/><circle cx="527.2" cy="354.6" r="19.4" fill="#2E75B6"/>
<text x="527.2" y="361.6" font-size="23.5" font-weight="bold" fill="#fff" text-anchor="middle" textLength="12.8" lengthAdjust="spacingAndGlyphs">8</text>
<circle filter="url(#sh3)" cx="582.3" cy="356.0" r="20.4" fill="#fff"/><circle cx="582.3" cy="356.0" r="19.4" fill="#2E75B6"/>
<text x="582.3" y="363.0" font-size="23.5" font-weight="bold" fill="#fff" text-anchor="middle" textLength="12.6" lengthAdjust="spacingAndGlyphs"><tspan font-size="24.9" dy="6.3">9</tspan></text>
<circle filter="url(#sh3)" cx="639.8" cy="356.4" r="20.4" fill="#fff"/><circle cx="639.8" cy="356.4" r="19.4" fill="#2E75B6"/>
<text x="639.2" y="363.4" font-size="23.5" font-weight="bold" fill="#fff" text-anchor="middle" textLength="25.4" lengthAdjust="spacingAndGlyphs"><tspan class="o" font-size="16.4">10</tspan></text>
<circle filter="url(#sh3)" cx="694.0" cy="356.0" r="20.4" fill="#fff"/><circle cx="694.0" cy="356.0" r="19.4" fill="#2E75B6"/>
<text x="693.2" y="363.0" font-size="23.5" font-weight="bold" fill="#fff" text-anchor="middle" textLength="23.4" lengthAdjust="spacingAndGlyphs"><tspan class="o" font-size="16.4">1</tspan><tspan font-size="24.9" dy="6.3">7</tspan></text>
<circle filter="url(#sh3)" cx="747.7" cy="357.2" r="20.4" fill="#fff"/><circle cx="747.7" cy="357.2" r="19.4" fill="#2E75B6"/>
<text x="747.4" y="364.2" font-size="23.5" font-weight="bold" fill="#fff" text-anchor="middle" textLength="27.4" lengthAdjust="spacingAndGlyphs"><tspan class="o" font-size="16.4">1</tspan>8</text>
<circle filter="url(#sh3)" cx="805.3" cy="357.0" r="20.4" fill="#fff"/><circle cx="805.3" cy="357.0" r="19.4" fill="#2E75B6"/>
<text x="804.9" y="364.0" font-size="23.5" font-weight="bold" fill="#fff" text-anchor="middle" textLength="27.6" lengthAdjust="spacingAndGlyphs"><tspan class="o" font-size="16.4">1</tspan><tspan font-size="24.9" dy="6.3">9</tspan></text>
<circle filter="url(#sh3)" cx="859.8" cy="358.2" r="20.4" fill="#fff"/><circle cx="859.8" cy="358.2" r="19.4" fill="#2E75B6"/>
<text x="859.9" y="365.2" font-size="23.5" font-weight="bold" fill="#fff" text-anchor="middle" textLength="25.4" lengthAdjust="spacingAndGlyphs"><tspan font-size="24.9" dy="6.3">7</tspan><tspan dy="-6.3">8</tspan></text>
<circle filter="url(#sh3)" cx="918.1" cy="358.6" r="20.4" fill="#fff"/><circle cx="918.1" cy="358.6" r="19.4" fill="#2E75B6"/>
<text x="917.5" y="365.6" font-size="23.5" font-weight="bold" fill="#fff" text-anchor="middle" textLength="26.4" lengthAdjust="spacingAndGlyphs">8<tspan font-size="24.9" dy="6.3">5</tspan></text>
<circle filter="url(#sh3)" cx="969.8" cy="358.6" r="20.4" fill="#fff"/><circle cx="969.8" cy="358.6" r="19.4" fill="#2E75B6"/>
<text x="971.4" y="365.6" font-size="23.5" font-weight="bold" fill="#fff" text-anchor="middle" textLength="26.6" lengthAdjust="spacingAndGlyphs"><tspan font-size="24.9" dy="6.3">95</tspan></text>
<circle filter="url(#sh3)" cx="70.5" cy="356.4" r="34.5" fill="#fff"/><circle cx="70.5" cy="356.4" r="33.5" fill="#FFC000"/>
<text x="69.7" y="359.9" font-size="23" font-weight="bold" fill="#fff" text-anchor="middle" textLength="56.8" lengthAdjust="spacingAndGlyphs">Rank</text>
<rect x="30" y="404" width="234" height="36.8" fill="#002060"/>
<text x="146.5" y="428.4" font-size="21.8" font-weight="bold" fill="#fff" text-anchor="middle" textLength="215.4" lengthAdjust="spacingAndGlyphs">NOMISMA I<tspan class="o" font-size="15.0">2</tspan>I SCORE</text>
<g font-size="19" fill="#000" stroke="#000" stroke-width="0.8" text-anchor="end">
<text transform="translate(146.2 498.8) rotate(-45)" textLength="59.0" lengthAdjust="spacingAndGlyphs">Milano</text>
<text transform="translate(201.1 498.8) rotate(-45)" textLength="56.3" lengthAdjust="spacingAndGlyphs">Torino</text>
<text transform="translate(255.3 498.8) rotate(-45)" textLength="65.8" lengthAdjust="spacingAndGlyphs">Genova</text>
<text transform="translate(312.0 498.8) rotate(-45)" textLength="62.3" lengthAdjust="spacingAndGlyphs">Firenze</text>
<text transform="translate(365.8 498.8) rotate(-45)" textLength="67.9" lengthAdjust="spacingAndGlyphs">Venezia</text>
<text transform="translate(420.7 498.8) rotate(-45)" textLength="70.4" lengthAdjust="spacingAndGlyphs">Bologna</text>
<text transform="translate(475.9 498.8) rotate(-45)" textLength="61.0" lengthAdjust="spacingAndGlyphs">Verona</text>
<text transform="translate(531.0 498.8) rotate(-45)" textLength="54.8" lengthAdjust="spacingAndGlyphs">Parma</text>
<text transform="translate(586.6 498.8) rotate(-45)" textLength="61.4" lengthAdjust="spacingAndGlyphs">Ferrara</text>
<text transform="translate(642.4 498.8) rotate(-45)" textLength="75.0" lengthAdjust="spacingAndGlyphs">Ravenna</text>
<text transform="translate(698.0 499.3) rotate(-45)" textLength="33.6" lengthAdjust="spacingAndGlyphs">Bari</text>
<text transform="translate(751.9 498.8) rotate(-45)" textLength="48.9" lengthAdjust="spacingAndGlyphs">Roma</text>
<text transform="translate(807.5 498.8) rotate(-45)" textLength="49.4" lengthAdjust="spacingAndGlyphs">Aosta</text>
<text transform="translate(864.1 498.8) rotate(-45)" textLength="53.9" lengthAdjust="spacingAndGlyphs">Jesolo</text>
<text transform="translate(918.1 498.8) rotate(-45)" textLength="68.4" lengthAdjust="spacingAndGlyphs">Messina</text>
<text transform="translate(973.9 500.0) rotate(-45)" textLength="54.4" lengthAdjust="spacingAndGlyphs">Napoli</text>
</g>
</svg></body></html>
